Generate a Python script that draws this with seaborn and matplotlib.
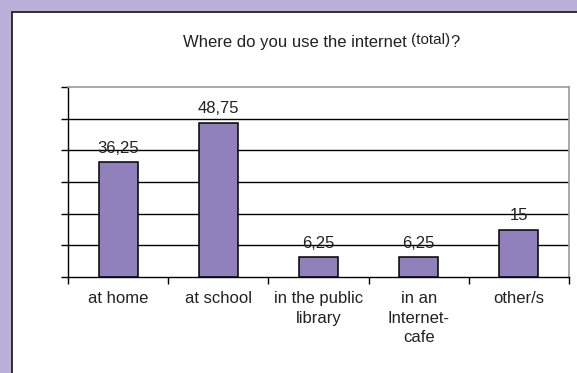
import matplotlib
matplotlib.use("Agg")
import matplotlib.pyplot as plt
from matplotlib.patches import Rectangle
import seaborn as sns

categories = ["at home", "at school", "in the public\nlibrary", "in an\nInternet-\ncafe", "other/s"]
values = [36.25, 48.75, 6.25, 6.25, 15]
y_ticks = [0, 10, 20, 30, 40, 50, 60]

bar_color = "#9080bc"
back_color = "#b8b0d8"

sns.set_style("white")
plt.rcParams['font.family'] = ['Liberation Sans', 'DejaVu Sans']

fig = plt.figure(figsize=(5.77, 3.73), dpi=100, facecolor=back_color)

# white inner panel, only left and top edges visible
fig.add_artist(Rectangle((12 / 577, -0.1), 1.2, 1.1 - 12 / 373,
                         transform=fig.transFigure, facecolor="white",
                         edgecolor="#222222", linewidth=1.3, zorder=0))

ax = fig.add_axes([68 / 577, 1 - 277 / 373, (569 - 68) / 577, (277 - 87) / 373])
ax.set_facecolor("none")

sns.barplot(x=categories, y=values, color=bar_color, saturation=1,
            edgecolor="black", linewidth=1.1, width=0.39, ax=ax, zorder=3)

ax.set_ylim(0, 60)
ax.set_xlim(-0.5, len(categories) - 0.5)
ax.set_yticks(y_ticks)
ax.set_yticklabels([])
ax.tick_params(axis="y", length=5, width=1, color="black", direction="out", left=True)
for y in y_ticks[1:-1]:
    ax.axhline(y, color="black", linewidth=1, zorder=1)

ax.set_xticks([i - 0.5 for i in range(len(categories) + 1)])
ax.set_xticklabels([])
ax.tick_params(axis="x", which="major", length=5, width=1, color="black", direction="out", bottom=True)
ax.set_xticks(range(len(categories)), minor=True)
ax.set_xticklabels(categories, minor=True, fontsize=12, color="#222222", linespacing=1.4)
ax.tick_params(axis="x", which="minor", length=0, pad=10)

for side in ["top", "right"]:
    ax.spines[side].set_visible(True)
    ax.spines[side].set_color("#999999")
    ax.spines[side].set_linewidth(1.2)
for side in ["left", "bottom"]:
    ax.spines[side].set_color("black")
    ax.spines[side].set_linewidth(1)
ax.set_xlabel("")
ax.set_ylabel("")

for i, v in enumerate(values):
    ax.annotate(f"{v:g}".replace(".", ","), xy=(i, v), xytext=(0, 4.5),
                textcoords="offset points", ha="center", va="bottom",
                fontsize=12, color="#222222", zorder=4)

# title with smaller raised "(total)"
t1 = fig.text(183 / 577, 1 - 50 / 373, "Where do you use the internet ",
              fontsize=12, color="#222222", ha="left", va="bottom")
t2 = ax.annotate("(total)", xy=(1, 0), xycoords=t1, xytext=(0, 2.5),
                 textcoords="offset points", ha="left", va="bottom",
                 fontsize=11, color="#222222", annotation_clip=False)
ax.annotate("?", xy=(1, 0), xycoords=t2, xytext=(0, -2.5),
            textcoords="offset points", ha="left", va="bottom",
            fontsize=12, color="#222222", annotation_clip=False)

fig.savefig("out.png", dpi=100, facecolor=back_color)
